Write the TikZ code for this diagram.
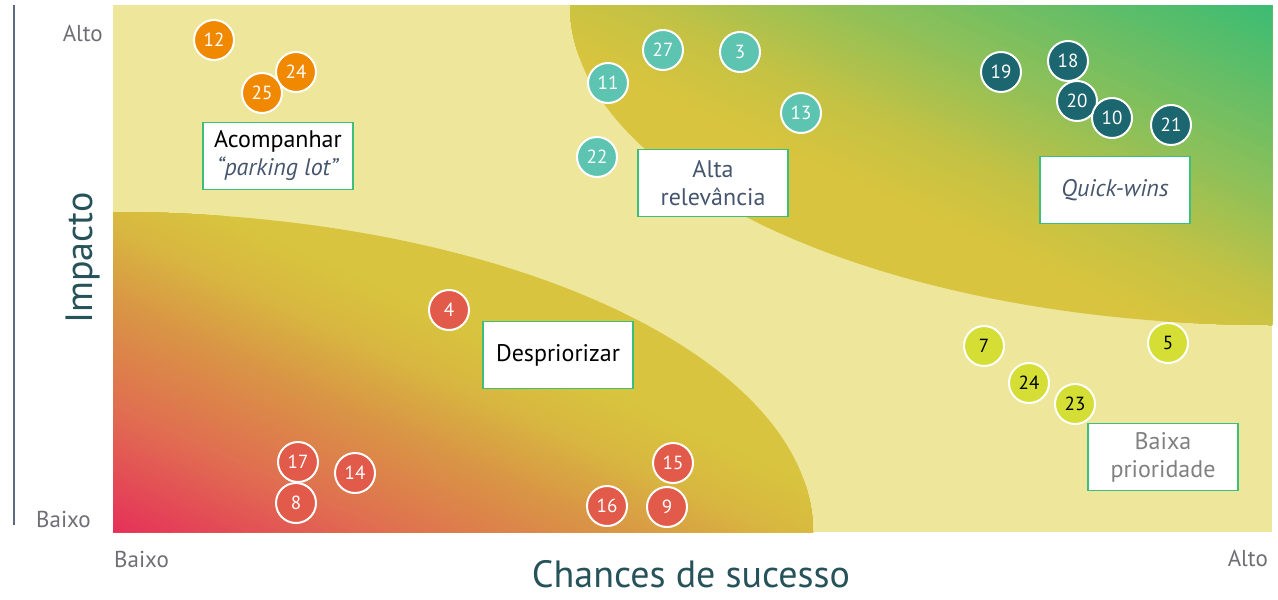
\documentclass[tikz,border=0pt]{standalone}
\usepackage{fontspec}
\setmainfont{PT Sans}
\usetikzlibrary{shapes, positioning}
\definecolor{bgYellow}{HTML}{EDE69B}
\definecolor{zRed}{HTML}{E6305A}
\definecolor{zOrange}{HTML}{E07050}
\definecolor{zAmber}{HTML}{D99545}
\definecolor{zOchre}{HTML}{D8B840}
\definecolor{zMustard}{HTML}{D8C43E}
\definecolor{zOlive}{HTML}{C4C244}
\definecolor{zLime}{HTML}{90C058}
\definecolor{zGreen}{HTML}{3ABC74}
\definecolor{boxGreen}{HTML}{3CBE7C}
\definecolor{slateText}{HTML}{46556E}
\definecolor{axisGray}{HTML}{6E6E76}
\definecolor{titleTeal}{HTML}{26525A}
\definecolor{lineSlate}{HTML}{5B6B82}
\definecolor{cOrange}{HTML}{F08800}
\definecolor{cTeal}{HTML}{5CC4B0}
\definecolor{cDark}{HTML}{1C6670}
\definecolor{cLime}{HTML}{D4DE34}
\definecolor{cRed}{HTML}{E25A4A}
% corner x, corner y, x reach, y reach, from, to, colour from, colour to
\newcommand{\zoneBands}[8]{%
  \foreach \i in {24,23,...,0} {
    \pgfmathsetmacro\bandS{#5+(#6-#5)*\i/24}
    \pgfmathtruncatemacro\bandT{100*\i/24}
    \fill[#8!\bandT!#7] (#1,#2) -- ({#1+(#3)*\bandS},#2) -- (#1,{#2+(#4)*\bandS}) -- cycle;
  }}
\tikzstyle{issue}=[circle, minimum size=40pt, inner sep=0pt, draw=white, line width=2pt,
text=white, font=\fontsize{19}{19}\selectfont]
\tikzstyle{issueOrange}=[issue, fill=cOrange]
\tikzstyle{issueTeal}=[issue, fill=cTeal]
\tikzstyle{issueDark}=[issue, fill=cDark]
\tikzstyle{issueLime}=[issue, fill=cLime, text=black]
\tikzstyle{issueRed}=[issue, fill=cRed]
\tikzstyle{zoneLbl}=[rectangle, draw=boxGreen, line width=1.5pt, fill=white, align=center,
minimum width=150pt, minimum height=67pt, inner sep=2pt, font=\fontsize{24}{28}\selectfont]
\tikzstyle{axisLbl}=[inner sep=0pt, text=axisGray, font=\fontsize{23}{28}\selectfont]
\tikzstyle{axisTitle}=[inner sep=0pt, text=titleTeal, font=\fontsize{38}{44}\selectfont]

\begin{document}
\begin{tikzpicture}[x=1pt, y=-1pt]
      \useasboundingbox (0,0) rectangle (1278,600);
      \fill[bgYellow] (113,5) rectangle (1272,532);
      \begin{scope}
        \clip (113,5) rectangle (1272,532);
        \clip (1272,5) ellipse [x radius=702, y radius=320];
        \fill[zMustard] (570,5) rectangle (1272,325);
        \zoneBands{1272}{5}{-702}{320}{0.92}{1.15}{zOlive}{zMustard}
        \zoneBands{1272}{5}{-702}{320}{0.61}{0.92}{zLime}{zOlive}
        \zoneBands{1272}{5}{-702}{320}{0}{0.61}{zGreen}{zLime}
      \end{scope}
      \begin{scope}
        \clip (113,5) rectangle (1272,532);
        \clip (113,532) ellipse [x radius=700, y radius=320];
        \fill[zMustard] (113,212) rectangle (813,532);
        \zoneBands{113}{532}{700}{-320}{0.97}{1.15}{zOchre}{zMustard}
        \zoneBands{113}{532}{700}{-320}{0.72}{0.97}{zAmber}{zOchre}
        \zoneBands{113}{532}{700}{-320}{0.41}{0.72}{zOrange}{zAmber}
        \zoneBands{113}{532}{700}{-320}{0}{0.41}{zRed}{zOrange}
      \end{scope}
      \draw[lineSlate, line width=2pt] (14,5) -- (14,525);

      \node(yHigh) [axisLbl, anchor=base east] at (103,41) {Alto};
      \node(yLow) [axisLbl, anchor=base east] at (91,527) {Baixo};
      \node(xLow) [axisLbl, anchor=base west] at (114,567) {Baixo};
      \node(xHigh) [axisLbl, anchor=base east] at (1268,566) {Alto};
      \node(yTitle) [axisTitle, anchor=base, rotate=90] at (92,258) {Impacto};
      \node(xTitle) [axisTitle, anchor=base] at (691,587) {Chances de sucesso};

      \node(follow) [zoneLbl] at (278,156) {Acompanhar\\\textcolor{slateText}{\textit{“parking lot”}}};
      \node(relevant) [zoneLbl, text=slateText] at (713,183) {Alta\\relevância};
      \node(quick) [zoneLbl, text=slateText] at (1115,190) {\textit{Quick-wins}};
      \node(drop) [zoneLbl] at (558,355) {Despriorizar};
      \node(low) [zoneLbl, text=gray] at (1163,457) {Baixa\\prioridade};

      \node(p12) [issueOrange] at (214,40) {12};
      \node(p24a) [issueOrange] at (296,72) {24};
      \node(p25) [issueOrange] at (262,93) {25};

      \node(p27) [issueTeal] at (663,50) {27};
      \node(p3) [issueTeal] at (740,52) {3};
      \node(p11) [issueTeal] at (608,83) {11};
      \node(p13) [issueTeal] at (801,113) {13};
      \node(p22) [issueTeal] at (597,157) {22};

      \node(p19) [issueDark] at (1001,72) {19};
      \node(p18) [issueDark] at (1068,61) {18};
      \node(p20) [issueDark] at (1077,101) {20};
      \node(p10) [issueDark] at (1112,118) {10};
      \node(p21) [issueDark] at (1171,125) {21};

      \node(p7) [issueLime] at (984,346) {7};
      \node(p24b) [issueLime] at (1029,383) {24};
      \node(p23) [issueLime] at (1075,404) {23};
      \node(p5) [issueLime] at (1168,343) {5};

      \node(p4) [issueRed] at (449,310) {4};
      \node(p17) [issueRed] at (298,462) {17};
      \node(p14) [issueRed] at (355,473) {14};
      \node(p8) [issueRed] at (296,503) {8};
      \node(p15) [issueRed] at (673,463) {15};
      \node(p16) [issueRed] at (607,506) {16};
      \node(p9) [issueRed] at (667,507) {9};
    \end{tikzpicture}
\end{document}
